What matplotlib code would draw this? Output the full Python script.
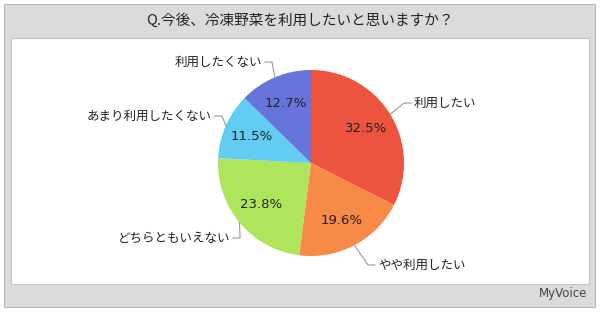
import numpy as np
import matplotlib.pyplot as plt
from matplotlib.patches import Rectangle

plt.rcParams['font.family'] = ['Noto Sans CJK JP', 'DejaVu Sans']

title = "Q.今後、冷凍野菜を利用したいと思いますか？"
labels = ["利用したい", "やや利用したい", "どちらともいえない", "あまり利用したくない", "利用したくない"]
values = [32.5, 19.6, 23.8, 11.5, 12.7]
colors = ["#ec5440", "#f88a48", "#aee55a", "#62ccf2", "#6674dc"]

# label anchor positions (pixels from top-left)
label_pos = [(414, 103), (378, 265), (230, 238), (212, 116), (262, 62)]
label_ha = ["left", "left", "right", "right", "right"]

W, H = 600, 312
fig = plt.figure(figsize=(6, 3.12), dpi=100)
ax = fig.add_axes([0, 0, 1, 1])

# panel backgrounds (y measured from bottom)
ax.add_patch(Rectangle((4, H - 307), 591, 303, facecolor="#dcdbdc", edgecolor="#b8b8b8", lw=0.8))
ax.add_patch(Rectangle((11, H - 284), 578, 246, facecolor="white", edgecolor="#c4c4c4", lw=0.8))

ax.text(300, H - 21, title, ha='center', va='center', fontsize=10.5, color="#222222")
ax.text(563, H - 294, "MyVoice", ha='center', va='center', fontsize=8.5,
        color="#444444", family=['DejaVu Sans'])

cx, cy, r = 311, H - 163, 93
wedges, _ = ax.pie(values, colors=colors, startangle=90, counterclock=False,
                   center=(cx, cy), radius=r, frame=True,
                   wedgeprops=dict(edgecolor='none'))
ax.set_xlim(0, W)
ax.set_ylim(0, H)
ax.set_aspect('equal')
ax.axis('off')

for w, v in zip(wedges, values):
    ang = np.deg2rad((w.theta1 + w.theta2) / 2)
    ax.text(cx + 0.7 * r * np.cos(ang), cy + 0.7 * r * np.sin(ang), f"{v}%",
            ha='center', va='center', fontsize=9.5, color="#222222", family=['DejaVu Sans'])

for w, lab, (lx, ly), ha in zip(wedges, labels, label_pos, label_ha):
    ang = np.deg2rad((w.theta1 + w.theta2) / 2)
    x0, y0 = cx + r * np.cos(ang), cy + r * np.sin(ang)
    ey = H - ly
    ex = lx - 3 if ha == 'left' else lx + 3
    ex2 = ex - 7 if ha == 'left' else ex + 7
    ax.plot([x0, ex2, ex], [y0, ey, ey], color="#999999", lw=0.8)
    ax.text(lx, ey, lab, ha=ha, va='center', fontsize=9, color="#222222")

fig.savefig("out.png", dpi=100)
